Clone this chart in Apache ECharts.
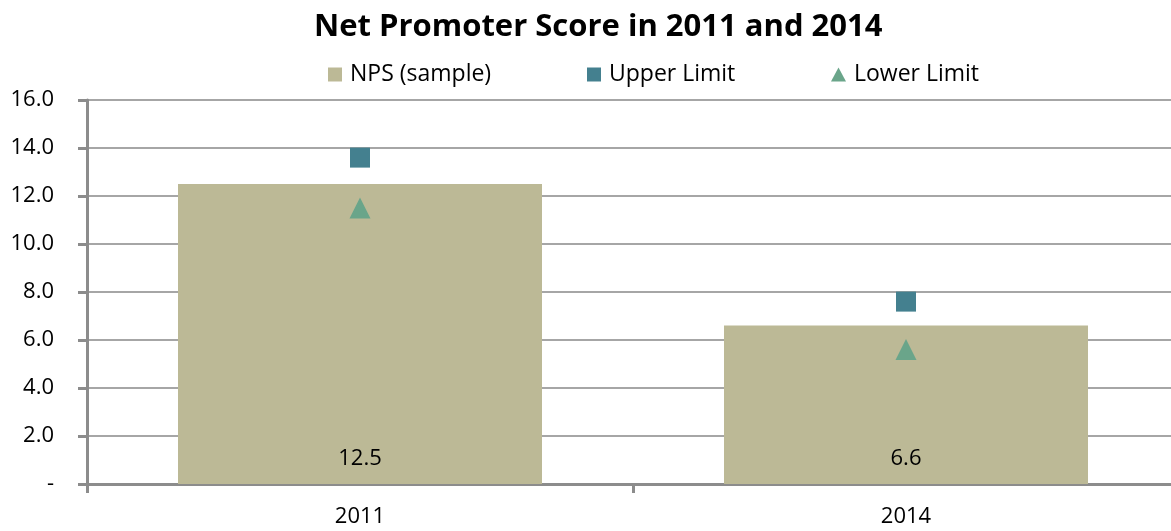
<!DOCTYPE html>
<html>
<head>
<meta charset="utf-8">
<script src="https://cdn.jsdelivr.net/npm/echarts@6/dist/echarts.min.js"></script>
<style>
  html, body { margin: 0; padding: 0; background: #fff; }
  #chart { width: 1171px; height: 531px; }
</style>
</head>
<body>
<div id="chart"></div>
<script>
const years = ["2011", "2014"];
const npsSample = [12.5, 6.6];
const upperLimit = [13.6, 7.6];
const lowerLimit = [11.5, 5.6];

const font = "Open Sans";
const chart = echarts.init(document.getElementById("chart"), null, { renderer: "canvas" });

const legendText = { fontFamily: font, fontSize: 23, color: "#000", padding: [0, 0, 0, 3] };

chart.setOption({
  animation: false,
  title: {
    text: "Net Promoter Score in 2011 and 2014",
    left: 309,
    top: 7,
    textStyle: { fontFamily: font, fontSize: 31, fontWeight: "bold", color: "#000" }
  },
  legend: [
    { data: [{ name: "NPS (sample)", icon: "rect" }], left: 323, top: 58, itemWidth: 14, itemHeight: 14, textStyle: legendText },
    { data: [{ name: "Upper Limit", icon: "rect" }], left: 582, top: 58, itemWidth: 14, itemHeight: 14, textStyle: legendText },
    { data: [{ name: "Lower Limit", icon: "triangle" }], left: 826, top: 58, itemWidth: 15, itemHeight: 14, textStyle: legendText }
  ],
  grid: { left: 87, right: -8, top: 100, bottom: 47, outerBoundsMode: "none" },
  xAxis: {
    type: "category",
    data: years,
    axisLine: { lineStyle: { color: "#8c8c8c", width: 3 } },
    axisTick: { show: true, length: 9, lineStyle: { color: "#8c8c8c", width: 3 } },
    axisLabel: { fontFamily: font, fontSize: 22, color: "#000", margin: 22 }
  },
  yAxis: {
    type: "value",
    min: 0,
    max: 16,
    interval: 2,
    axisLine: { show: true, lineStyle: { color: "#8c8c8c", width: 3 } },
    axisTick: { show: true, length: 9, lineStyle: { color: "#8c8c8c", width: 3 } },
    splitLine: { lineStyle: { color: "#a6a6a6", width: 2 } },
    axisLabel: {
      fontFamily: font, fontSize: 22, color: "#000", margin: 33,
      formatter: v => (v === 0 ? "-" : v.toFixed(1))
    }
  },
  series: [
    {
      name: "NPS (sample)",
      type: "bar",
      data: npsSample,
      barWidth: 364,
      itemStyle: { color: "#bcb996" },
      label: {
        show: true,
        position: "insideBottom",
        distance: 14,
        fontFamily: font,
        fontSize: 22,
        color: "#000",
        formatter: p => p.value.toFixed(1)
      }
    },
    {
      name: "Upper Limit",
      type: "scatter",
      data: upperLimit,
      symbol: "rect",
      symbolSize: 20,
      itemStyle: { color: "#44808f", opacity: 1 }
    },
    {
      name: "Lower Limit",
      type: "scatter",
      data: lowerLimit,
      symbol: "triangle",
      symbolSize: 21,
      itemStyle: { color: "#6aa58a", opacity: 1 }
    }
  ]
});
</script>
</body>
</html>
